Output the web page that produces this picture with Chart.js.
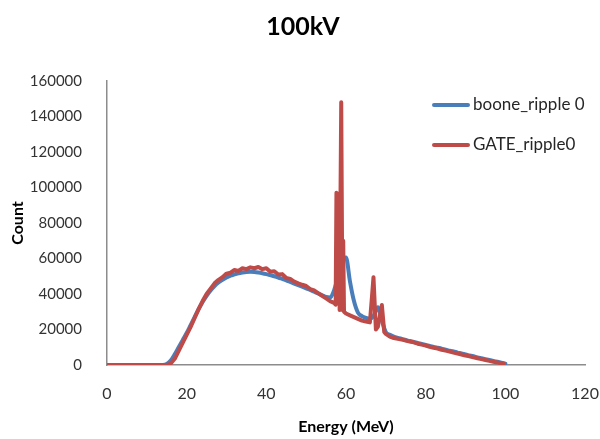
<!DOCTYPE html>
<html>
<head>
<meta charset="utf-8">
<script src="https://cdn.jsdelivr.net/npm/chart.js@4/dist/chart.umd.min.js"></script>
<style>
html,body{margin:0;padding:0;background:#fff;}
#wrap{width:600px;height:439px;position:relative;}
</style>
</head>
<body>
<div id="wrap"><canvas id="c" width="600" height="439"></canvas></div>
<script>
const chartTitle = "100kV";
const xTitle = "Energy (MeV)";
const yTitle = "Count";
const seriesNames = ["boone_ripple 0", "GATE_ripple0"];
const seriesColors = ["#4A7EBB", "#BE4B48"];

const booneEnergy = [0,14,15,16,17,18,19,20,21,22,23,24,25,26,27,28,29,30,31,32,33,34,35,36,37,38,39,40,41,42,43,44,45,46,47,48,49,50,51,52,53,54,55,56,57,58,59,60,61,62,63,64,65,66,67,68,69,70,71,72,73,74,75,76,77,78,79,80,81,82,83,84,85,86,87,88,89,90,91,92,93,94,95,96,97,98,99,100];
const booneCount = [0,0,500,2500,6000,10000,14000,18000,22500,27000,31500,35500,39000,42000,44500,46500,48000,49300,50300,51100,51700,52100,52400,52500,52400,52100,51700,51200,50600,50000,49300,48500,47700,46800,45900,45000,44100,43200,42300,41300,40300,39300,38300,38000,42000,50000,58000,60500,47000,36000,29500,27500,26500,26000,28000,32500,25000,18500,17000,16000,15300,14700,14100,13500,13000,12400,11900,11300,10800,10200,9700,9200,8600,8100,7600,7000,6500,5900,5400,4900,4300,3800,3300,2800,2300,1800,1300,800];

const gateEnergy = [0,15,16,17,18,19,20,21,22,23,24,25,26,27,28,29,30,31,32,33,34,35,36,37,38,39,40,41,42,43,44,45,46,47,48,49,50,51,52,53,54,55,56,57,57.4,57.6,58.2,58.4,58.8,59.1,59.3,59.5,60,61,62,63,64,65,66,66.5,66.9,67.5,68,69,69.6,70,71,72,73,74,75,76,77,78,79,80,81,82,83,84,85,86,87,88,89,90,91,92,93,94,95,96,97,98,99,99.5];
const gateCount = [0,0,800,3500,8000,12500,17000,21500,26500,31500,36000,40000,43000,46000,48000,49500,51500,52000,53500,53000,54500,54000,55000,54500,55200,54000,54500,52500,52800,51000,51200,49000,48500,47000,46000,45200,44500,42800,42000,40500,39000,37500,36000,35000,34000,97000,96000,31000,148000,31000,70000,30000,29000,28000,27000,26000,25000,24500,24000,38000,49500,20000,21500,33800,18600,17500,16000,15200,14800,14300,13800,13200,12800,12000,11500,11000,10300,9700,9300,8600,8100,7600,7000,6400,5900,5300,4900,4300,3800,3300,2800,2300,1800,1400,1000,800];

const xTicks = [0,20,40,60,80,100,120];
const yTicks = [0,20000,40000,60000,80000,100000,120000,140000,160000];

function pairs(xs, ys){ return xs.map((x,i)=>({x:x, y:ys[i]})); }

const legendPlugin = {
  id: 'sideLegend',
  afterDraw(chart){
    const ctx = chart.ctx;
    ctx.save();
    chart.data.datasets.forEach((ds, i) => {
      const y = 105 + i*40;
      ctx.strokeStyle = ds.borderColor;
      ctx.lineWidth = 4;
      ctx.lineCap = 'round';
      ctx.beginPath();
      ctx.moveTo(434, y);
      ctx.lineTo(468, y);
      ctx.stroke();
      ctx.fillStyle = '#262626';
      ctx.font = '17px Lato';
      ctx.textBaseline = 'middle';
      ctx.textAlign = 'left';
      ctx.fillText(ds.label, 473, y);
    });
    ctx.restore();
  }
};

new Chart(document.getElementById('c'), {
  type: 'line',
  data: {
    datasets: [
      { label: seriesNames[0], data: pairs(booneEnergy, booneCount), borderColor: seriesColors[0], backgroundColor: seriesColors[0], borderWidth: 4, pointRadius: 0, cubicInterpolationMode: 'monotone', borderCapStyle: 'round', borderJoinStyle: 'round', order: 2 },
      { label: seriesNames[1], data: pairs(gateEnergy, gateCount), borderColor: seriesColors[1], backgroundColor: seriesColors[1], borderWidth: 4, pointRadius: 0, tension: 0, borderCapStyle: 'round', borderJoinStyle: 'round', order: 1 }
    ]
  },
  options: {
    responsive: false,
    animation: false,
    layout: { padding: { left: 8, right: 2, top: 0, bottom: 0 } },
    plugins: {
      legend: { display: false },
      tooltip: { enabled: false },
      title: { display: true, text: chartTitle, color: '#000', font: { family: 'Lato', size: 25, weight: 'bold' }, padding: { top: 12, bottom: 39 } }
    },
    scales: {
      x: {
        type: 'linear', min: 0, max: 120,
        afterBuildTicks(scale){ scale.ticks = xTicks.map(v=>({value:v})); },
        afterFit(scale){ scale.height = 74; scale.paddingLeft = 0; scale.paddingRight = 15; },
        grid: { display: false, drawTicks: false },
        border: { display: true, color: '#8C8C8C', width: 1.5 },
        ticks: { color: '#333', font: { family: 'Lato', size: 16 }, padding: 19, maxRotation: 0 },
        title: { display: true, text: xTitle, color: '#000', font: { family: 'Lato', size: 16, weight: 'bold' }, padding: { top: 4, bottom: 3 } }
      },
      y: {
        type: 'linear', min: 0, max: 160000,
        afterBuildTicks(scale){ scale.ticks = yTicks.map(v=>({value:v})); },
        afterFit(scale){ scale.width = 99; },
        grid: { display: false, drawTicks: false },
        border: { display: true, color: '#8C8C8C', width: 1.5 },
        ticks: { color: '#333', font: { family: 'Lato', size: 15 }, padding: 25, callback: v => String(v) },
        title: { display: true, text: yTitle, color: '#000', font: { family: 'Lato', size: 16, weight: 'bold' }, padding: { top: 0, bottom: 4 } }
      }
    }
  },
  plugins: [legendPlugin]
});
</script>
</body>
</html>
